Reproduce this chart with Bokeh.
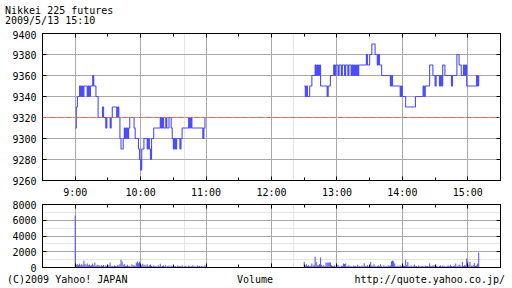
from bokeh.plotting import figure
from bokeh.models import (Range1d, FixedTicker, LinearAxis, Span, Grid, Div,
                          ColumnDataSource)
from bokeh.layouts import column
from bokeh.embed import file_html
from bokeh.resources import INLINE

# ---------------- data ----------------
title_line1 = "Nikkei 225 futures"
title_line2 = "2009/5/13 15:10"
footer_left = "(C)2009 Yahoo! JAPAN"
footer_mid = "Volume"
footer_right = "http://quote.yahoo.co.jp/"
prev_close = 9320

# minutes after 9:00
hour_ticks = [0, 60, 120, 180, 240, 300, 360]
hour_labels = ["9:00", "10:00", "11:00", "12:00", "13:00", "14:00", "15:00"]
half_ticks = [-30, 30, 90, 150, 210, 270, 330, 390]
price_ticks = [9260, 9280, 9300, 9320, 9340, 9360, 9380, 9400]
vol_ticks = [0, 2000, 4000, 6000, 8000]

am_start = 0      # 9:00
pm_start = 210    # 12:30

am_price = [
    9310, 9330, 9340, 9340, 9350, 9340, 9350, 9340, 9350, 9350,
    9350, 9340, 9350, 9340, 9350, 9350, 9360, 9350, 9350, 9340,
    9340, 9320, 9320, 9320, 9320, 9330, 9320, 9320, 9310, 9320,
    9320, 9320, 9310, 9320, 9330, 9330, 9330, 9330, 9320, 9330,
    9320, 9300, 9290, 9290, 9300, 9310, 9300, 9310, 9300, 9310,
    9320, 9320, 9320, 9320, 9310, 9300, 9300, 9300, 9290, 9280,
    9270, 9290, 9290, 9300, 9300, 9300, 9290, 9300, 9290, 9280,
    9300, 9300, 9310, 9310, 9310, 9310, 9310, 9310, 9320, 9310,
    9320, 9310, 9310, 9320, 9310, 9310, 9320, 9320, 9310, 9300,
    9290, 9300, 9290, 9300, 9300, 9300, 9290, 9300, 9310, 9310,
    9310, 9310, 9310, 9310, 9320, 9310, 9320, 9310, 9310, 9310,
    9310, 9310, 9310, 9310, 9310, 9310, 9310, 9300, 9310, 9320,
    9320,
]

pm_price = [
    9350, 9340, 9350, 9340, 9340, 9350, 9350, 9360, 9360, 9360,
    9370, 9360, 9370, 9360, 9370, 9350, 9350, 9350, 9350, 9350,
    9350, 9340, 9350, 9350, 9360, 9360, 9360, 9370, 9360, 9370,
    9370, 9360, 9370, 9370, 9360, 9370, 9370, 9360, 9370, 9370,
    9360, 9370, 9370, 9360, 9370, 9360, 9370, 9360, 9370, 9360,
    9370, 9370, 9370, 9370, 9370, 9370, 9370, 9380, 9370, 9370,
    9380, 9380, 9390, 9390, 9390, 9380, 9380, 9370, 9380, 9370,
    9370, 9360, 9360, 9360, 9360, 9360, 9360, 9360, 9360, 9350,
    9360, 9350, 9350, 9350, 9350, 9350, 9350, 9350, 9340, 9350,
    9340, 9340, 9340, 9330, 9330, 9330, 9330, 9330, 9330, 9330,
    9330, 9330, 9340, 9340, 9340, 9340, 9340, 9340, 9340, 9350,
    9340, 9350, 9350, 9350, 9350, 9370, 9370, 9370, 9360, 9360,
    9350, 9360, 9360, 9360, 9350, 9360, 9350, 9370, 9370, 9360,
    9360, 9360, 9360, 9360, 9360, 9350, 9360, 9360, 9360, 9360,
    9380, 9380, 9370, 9370, 9360, 9360, 9370, 9360, 9370, 9350,
    9350, 9350, 9350, 9350, 9350, 9350, 9350, 9350, 9360, 9350,
    9360,
]

am_vol = [
    6600, 350, 420, 300, 480, 260, 400, 330, 850, 450,
    300, 520, 280, 380, 220, 300, 500, 260, 620, 180,
    350, 240, 300, 150, 280, 200, 330, 120, 250, 180,
    220, 300, 620, 150, 200, 120, 260, 180, 150, 300,
    250, 400, 1000, 750, 300, 450, 220, 180, 350, 150,
    200, 120, 420, 260, 300, 180, 600, 750, 550, 720,
    400, 300, 480, 250, 350, 200, 420, 150, 300, 380,
    180, 120, 250, 150, 200, 100, 300, 160, 480, 120,
    200, 250, 150, 300, 120, 180, 260, 100, 220, 150,
    300, 120, 180, 100, 250, 150, 200, 120, 280, 100,
    150, 220, 120, 80, 250, 150, 100, 200, 300, 120,
    150, 100, 250, 120, 180, 100, 200, 150, 120, 280,
    100,
]

pm_vol = [
    720, 250, 400, 180, 300, 150, 220, 500, 200, 350,
    1360, 700, 300, 250, 400, 1270, 350, 200, 300, 150,
    630, 600, 650, 620, 640, 300, 200, 150, 250, 120,
    200, 350, 150, 100, 220, 180, 500, 450, 500, 150,
    200, 300, 120, 180, 100, 250, 150, 200, 120, 350,
    150, 200, 100, 250, 180, 550, 200, 150, 300, 120,
    180, 700, 250, 150, 400, 200, 120, 180, 250, 150,
    400, 200, 100, 250, 150, 180, 120, 300, 200, 250,
    800, 900, 780, 500, 200, 150, 250, 120, 300, 180,
    150, 250, 200, 1000, 300, 700, 200, 150, 250, 120,
    180, 380, 150, 200, 100, 250, 150, 120, 200, 180,
    100, 250, 150, 200, 120, 500, 180, 150, 250, 300,
    120, 200, 150, 100, 180, 250, 120, 250, 150, 200,
    100, 180, 250, 150, 350, 200, 120, 180, 250, 500,
    150, 200, 380, 250, 150, 700, 200, 300, 250, 1150,
    800, 300, 700, 250, 200, 300, 560, 200, 250, 500,
    1900,
]

# ---------------- styling ----------------
FONT = "DejaVu Sans Mono"
FS = "10px"
BLUE = "#4c4cff"
GRID = "#a8a8a8"
X0, X1 = -30, 390
TEXT_CSS = ("font-family:'DejaVu Sans Mono',monospace;font-size:10px;"
            "line-height:10px;color:#000;white-space:pre;position:absolute;")


def style_axis(ax, show_labels):
    ax.axis_line_color = "black"
    ax.major_tick_line_color = "black"
    ax.minor_tick_line_color = "black"
    ax.major_tick_in = 4
    ax.major_tick_out = 0
    ax.minor_tick_in = 3
    ax.minor_tick_out = 0
    ax.major_label_text_font = FONT
    ax.major_label_text_font_size = FS
    ax.major_label_text_color = "black"
    ax.major_label_standoff = 6
    if not show_labels:
        ax.major_label_text_font_size = "0px"
        ax.major_label_text_color = None
        ax.major_label_standoff = 0


def add_axes(p, yticks, xlabels):
    xt = FixedTicker(ticks=hour_ticks, minor_ticks=half_ticks)
    yt = FixedTicker(ticks=yticks, minor_ticks=[])
    over = {t: lab for t, lab in zip(hour_ticks, hour_labels)}
    bottom = LinearAxis(ticker=xt, major_label_overrides=over)
    top = LinearAxis(ticker=FixedTicker(ticks=hour_ticks, minor_ticks=half_ticks))
    left = LinearAxis(ticker=yt)
    right = LinearAxis(ticker=FixedTicker(ticks=yticks, minor_ticks=[]))
    style_axis(bottom, xlabels)
    style_axis(top, False)
    style_axis(left, True)
    style_axis(right, False)
    p.add_layout(bottom, "below")
    p.add_layout(top, "above")
    p.add_layout(left, "left")
    p.add_layout(right, "right")
    p.add_layout(Grid(dimension=0, ticker=FixedTicker(ticks=hour_ticks),
                      grid_line_color=GRID))
    p.add_layout(Grid(dimension=1, ticker=FixedTicker(ticks=yticks),
                      grid_line_color=GRID))


def base_fig(h, yr, top, bottom):
    p = figure(width=512, height=h, x_range=Range1d(X0, X1), y_range=yr,
               output_backend="svg", toolbar_location=None,
               x_axis_location=None, y_axis_location=None,
               min_border_left=42, min_border_right=12,
               min_border_top=top, min_border_bottom=bottom)
    p.outline_line_color = "black"
    p.background_fill_color = "white"
    p.border_fill_color = "white"
    return p


def span(txt, extra):
    return '<span style="%s%s">%s</span>' % (TEXT_CSS, extra, txt)


# ---------------- title block ----------------
title_div = Div(
    text='<div style="position:relative;width:512px;height:30px;">'
         + span(title_line1, "left:5px;top:5.5px;")
         + span(title_line2, "left:5px;top:15.5px;")
         + '</div>',
    width=512, height=30, margin=(0, 0, 0, 0))

# ---------------- price chart ----------------
p = base_fig(170, Range1d(9260, 9400), 3, 20)
add_axes(p, price_ticks, True)

am_src = ColumnDataSource(dict(t=[am_start + i for i in range(len(am_price))], v=am_price))
pm_src = ColumnDataSource(dict(t=[pm_start + i for i in range(len(pm_price))], v=pm_price))
p.add_layout(Span(location=prev_close, dimension="width", line_color="#ff5a5a",
                  line_dash="5 3", line_width=1))
p.step("t", "v", source=am_src, mode="after", line_color=BLUE, line_width=1.1)
p.step("t", "v", source=pm_src, mode="after", line_color=BLUE, line_width=1.1)

# ---------------- volume chart ----------------
q = base_fig(74, Range1d(0, 8000), 4, 7)
add_axes(q, vol_ticks, False)
vol_t = [am_start + i for i in range(len(am_vol))] + [pm_start + i for i in range(len(pm_vol))]
vol_v = am_vol + pm_vol
q.vbar(x=vol_t, top=vol_v, bottom=0, width=0.9, fill_color=BLUE, line_color=None)

# ---------------- footer ----------------
footer_div = Div(
    text='<div style="position:relative;width:512px;height:14px;">'
         + span(footer_left, "left:7px;top:0.5px;")
         + span(footer_mid, "left:255px;top:0.5px;transform:translateX(-50%);")
         + span(footer_right, "right:7px;top:0.5px;")
         + '</div>',
    width=512, height=14, margin=(0, 0, 0, 0))

layout = column(title_div, p, q, footer_div, spacing=0)
open("out.html", "w").write(file_html(layout, INLINE))
